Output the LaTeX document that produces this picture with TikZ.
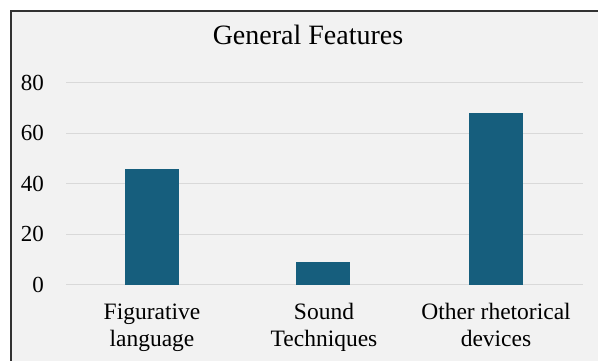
\documentclass[tikz,border=0pt]{standalone}
\usepackage{fontspec}
\setmainfont{Liberation Serif}
\definecolor{barblue}{RGB}{22,94,125}
\definecolor{panel}{RGB}{242,242,242}
\definecolor{gridgray}{RGB}{217,217,217}
\definecolor{framegray}{RGB}{50,50,50}
\tikzset{
  ticklabel/.style={anchor=base east, inner sep=0pt, font=\fontsize{23}{27}\selectfont},
  catlabel/.style={anchor=base, inner sep=0pt, align=center, font=\fontsize{23.5}{27}\selectfont},
  charttitle/.style={anchor=base, inner sep=0pt, font=\fontsize{28}{32}\selectfont},
  gridline/.style={draw=gridgray, line width=1pt},
  bar/.style={fill=barblue, draw=none},
}
\begin{document}
\begin{tikzpicture}[x=1pt,y=1pt]
  \useasboundingbox (0,0) rectangle (598,361);
  \clip (0,0) rectangle (598,361);
  % chart area and its frame
  \fill[white] (0,0) rectangle (598,361);
  \fill[panel] (11,-10) rectangle (610,350);
  \draw[framegray, line width=1.5pt] (11,-10) |- (610,350);
  % title
  \node[charttitle] (title) at (308,316) {General Features};
  % horizontal grid and value axis labels
  \foreach \v/\nm in {0/t0,20/t20,40/t40,60/t60,80/t80} {
    \draw[gridline] (66,{76+2.525*\v}) -- (583,{76+2.525*\v});
    \node[ticklabel] (\nm) at (44,{76+2.525*\v-7.5}) {\v};
  }
  % bars
  \fill[bar] (125,76) rectangle (179,{76+2.525*46});
  \fill[bar] (296,76) rectangle (350,{76+2.525*9});
  \fill[bar] (469,76) rectangle (523,{76+2.525*68});
  % category labels (base anchor sits on the last line)
  \node[catlabel] (c1) at (152,14) {Figurative\\language};
  \node[catlabel] (c2) at (324,14) {Sound\\Techniques};
  \node[catlabel] (c3) at (496,14) {Other rhetorical\\devices};
\end{tikzpicture}
\end{document}
